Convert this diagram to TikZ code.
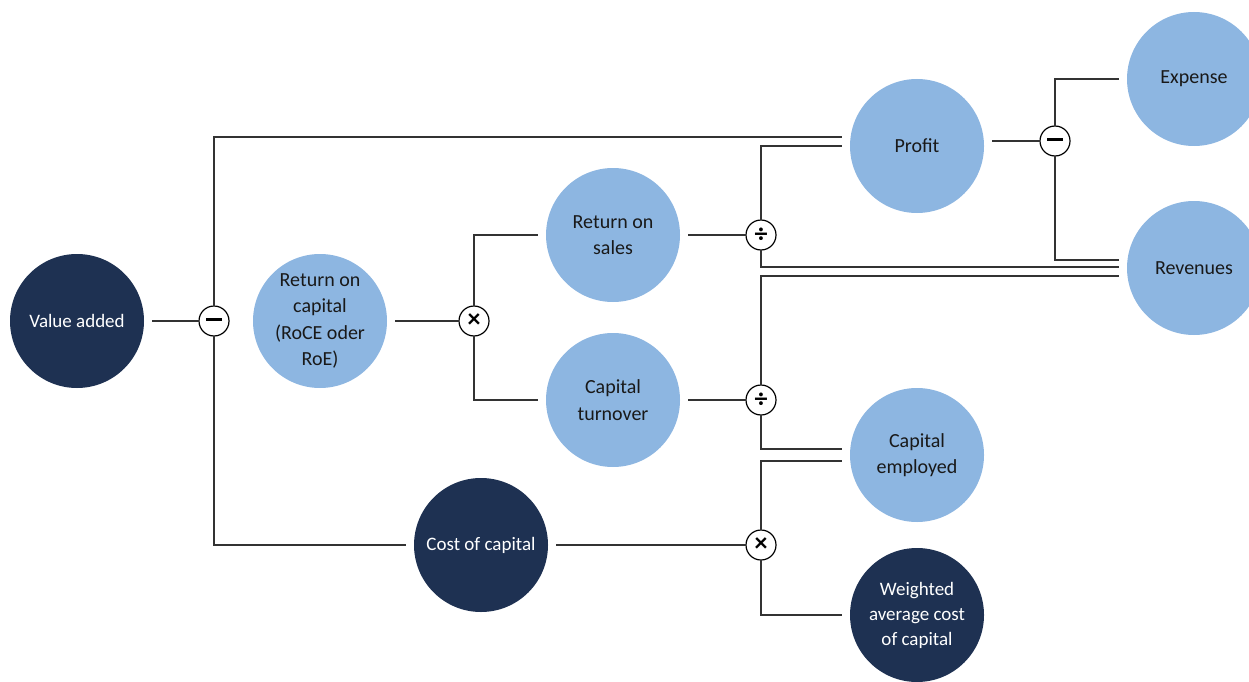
\documentclass[tikz,border=0pt]{standalone}
\usepackage{fontspec}
\setmainfont{Carlito}
\definecolor{lightblue}{HTML}{8DB6E1}
\definecolor{darkblue}{HTML}{1E3152}
\definecolor{linegray}{HTML}{333333}
\begin{document}
\begin{tikzpicture}[x=1pt, y=-1pt,
    light/.style={circle, fill=lightblue, minimum size=134pt, inner sep=0pt, outer sep=8pt,
      align=center, text=black!90, font=\fontsize{20}{26.5}\selectfont},
    dark/.style={light, fill=darkblue, text=white, font=\fontsize{19}{25}\selectfont},
    op/.style={circle, draw=black, fill=white, line width=1.2pt, minimum size=30pt, inner sep=0pt,
      outer sep=0pt, font=\fontsize{26}{26}\selectfont\bfseries},
    link/.style={draw=linegray, line width=1.4pt}]
      \useasboundingbox (0,0) rectangle (1249,682);
      % Disegno dei nodi
      \node[dark] (va) at (77,321) {Value added};
      \node[op] (m1) at (214,321) {\rule[0.25ex]{16pt}{3pt}};
      \node[light] (roc) at (320,321) {Return on\\capital\\(RoCE oder\\RoE)};
      \node[op] (x1) at (474,321) {×};
      \node[light] (ros) at (613,235) {Return on\\sales};
      \node[light] (ct) at (613,400) {Capital\\turnover};
      \node[op] (d1) at (761,235) {÷};
      \node[op] (d2) at (761,400) {÷};
      \node[light] (profit) at (917,146) {Profit};
      \node[light] (ce) at (917,455) {Capital\\employed};
      \node[dark] (coc) at (481,545) {Cost of capital};
      \node[op] (x2) at (761,545) {×};
      \node[dark] (wacc) at (917,615) {Weighted\\average cost\\of capital};
      \node[light] (expense) at (1194,79) {Expense};
      \node[light] (rev) at (1194,268) {Revenues};
      \node[op] (m2) at (1055,141) {\rule[0.25ex]{16pt}{3pt}};

      % Disegno degli archi
      \draw[link] (va) -- (m1);
      \draw[link] (m1) |- ([yshift=9pt]profit.west);
      \draw[link] (m1) |- (coc);
      \draw[link] (roc) -- (x1);
      \draw[link] (x1) |- (ros);
      \draw[link] (x1) |- (ct);
      \draw[link] (ros) -- (d1);
      \draw[link] (d1) |- (profit.west);
      \draw[link] (d1) |- ([yshift=1pt]rev.west);
      \draw[link] (ct) -- (d2);
      \draw[link] (d2) |- ([yshift=-8pt]rev.west);
      \draw[link] (d2) |- ([yshift=6pt]ce.west);
      \draw[link] (x2) |- ([yshift=-6pt]ce.west);
      \draw[link] (coc) -- (x2);
      \draw[link] (x2) |- (wacc);
      \draw[link] ([yshift=5pt]profit.east) -- (m2);
      \draw[link] (m2) |- (expense);
      \draw[link] (m2) |- ([yshift=8pt]rev.west);
    \end{tikzpicture}
\end{document}
